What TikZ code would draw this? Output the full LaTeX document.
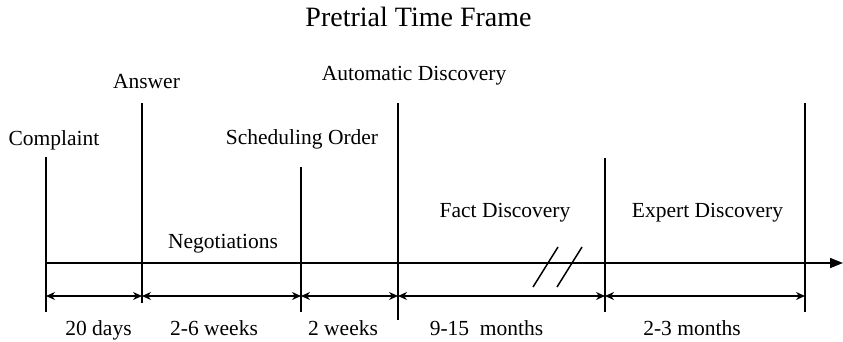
\documentclass[tikz,border=0pt]{standalone}
\usepackage{fontspec}
\setmainfont{Liberation Serif}
\usetikzlibrary{arrows.meta}
\begin{document}
\begin{tikzpicture}[x=1bp,y=-1bp,
  rule/.style={line width=1.5bp},
  span/.style={line width=1.3bp,{Stealth[length=9bp,width=8bp]}-{Stealth[length=9bp,width=8bp]}},
  lbl/.style={inner sep=0pt,anchor=base,font=\fontsize{21.5bp}{25bp}\selectfont},
  ttl/.style={inner sep=0pt,anchor=base,font=\fontsize{28bp}{32bp}\selectfont}]
\useasboundingbox (0,0) rectangle (843,341);

% event markers: tops and bottoms
\coordinate (cT) at (46,157);  \coordinate (cB) at (46,312);
\coordinate (aT) at (142,103); \coordinate (aB) at (142,303);
\coordinate (sT) at (301,167); \coordinate (sB) at (301,312);
\coordinate (dT) at (398,103); \coordinate (dB) at (398,320);
\coordinate (fT) at (605,158); \coordinate (fB) at (605,312);
\coordinate (eT) at (805,103); \coordinate (eB) at (805,312);

% time axis
\coordinate (ax0) at (46,263);
\coordinate (ax1) at (843,263);
\draw[rule,-{Triangle[length=13bp,width=10bp]}] (ax0) -- (ax1);

% vertical markers
\foreach \p in {c,a,s,d,f,e} \draw[rule] (\p T) -- (\p B);

% duration spans
\coordinate (c2) at (46,296);
\coordinate (a2) at (142,296);
\coordinate (s2) at (301,296);
\coordinate (d2) at (398,296);
\coordinate (f2) at (605,296);
\coordinate (e2) at (805,296);
\draw[span] (c2) -- (a2);
\draw[span] (a2) -- (s2);
\draw[span] (s2) -- (d2);
\draw[span] (d2) -- (f2);
\draw[span] (f2) -- (e2);

% break marks on the axis
\coordinate (b1a) at (533,287); \coordinate (b1b) at (558,247);
\coordinate (b2a) at (557,287); \coordinate (b2b) at (582,247);
\draw[rule] (b1a) -- (b1b);
\draw[rule] (b2a) -- (b2b);

% title and event labels
\node[ttl] (title) at (418.5,26) {Pretrial Time Frame};
\node[lbl] (autodisc) at (414,80) {Automatic Discovery};
\node[lbl] (answer) at (146.5,88) {Answer};
\node[lbl] (complaint) at (54,145) {Complaint};
\node[lbl] (sched) at (302,144) {Scheduling Order};
\node[lbl] (fact) at (505,217) {Fact Discovery};
\node[lbl] (expert) at (707.5,217) {Expert Discovery};
\node[lbl] (nego) at (223,248) {Negotiations};

% duration labels
\node[lbl] (d1) at (98.5,335) {20 days};
\node[lbl] (d2l) at (214,335) {2-6 weeks};
\node[lbl] (d3) at (343,335) {2 weeks};
\node[lbl] (d4) at (486.5,335) {9-15\ \ months};
\node[lbl] (d5) at (692,335) {2-3 months};
\end{tikzpicture}
\end{document}
